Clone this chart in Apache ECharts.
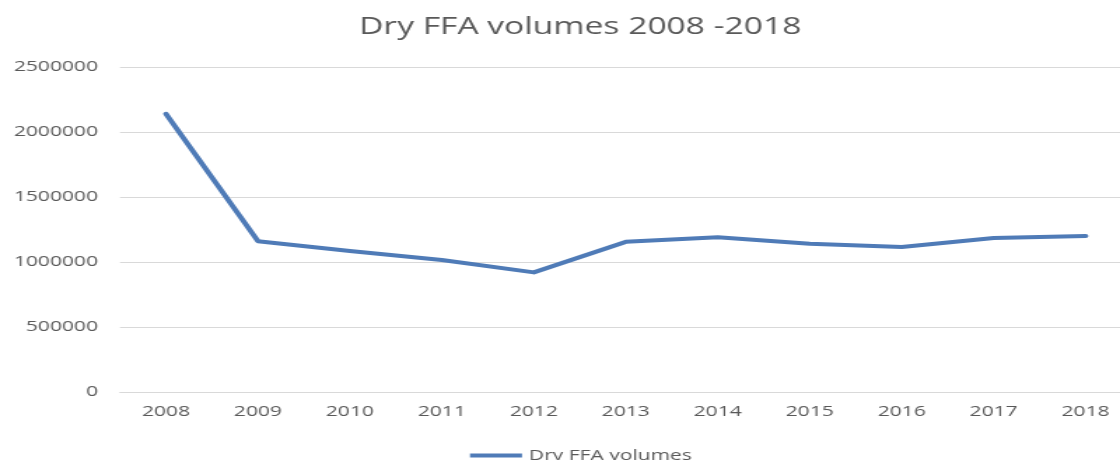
<!DOCTYPE html>
<html>
<head>
<meta charset="utf-8">
<script src="https://cdn.jsdelivr.net/npm/echarts@6/dist/echarts.min.js"></script>
<style>
  html, body { margin: 0; padding: 0; background: #fff; overflow: hidden; width: 1120px; height: 460px; }
  /* chart is laid out narrow and widened horizontally, giving the stretched lettering */
  #chart { width: 814px; height: 460px; transform: scaleX(1.4); transform-origin: 0 0; }
</style>
</head>
<body>
<div id="chart"></div>
<script>
// Yearly dry FFA traded volumes
const years = ['2008', '2009', '2010', '2011', '2012', '2013', '2014', '2015', '2016', '2017', '2018'];
const volumes = [2140000, 1160000, 1085000, 1015000, 920000, 1155000, 1190000, 1140000, 1115000, 1185000, 1200000];
const seriesName = 'Dry FFA volumes';
const chartTitle = 'Dry FFA volumes 2008 -2018';

const S = 1.4;            // horizontal stretch applied by CSS
const px = v => v / S;    // convert a screen x-distance into layout units
const textColor = '#595959';
const gridColor = '#d9d9d9';
const lineColor = '#4f7bb7';
const font = '"Open Sans", sans-serif';

const chart = echarts.init(document.getElementById('chart'), null, { renderer: 'canvas' });
chart.setOption({
  animation: false,
  backgroundColor: '#ffffff',
  title: {
    text: chartTitle,
    left: px(352),
    top: 10,
    textStyle: { color: textColor, fontFamily: font, fontSize: 24, fontWeight: 'normal' }
  },
  legend: {
    data: [{ name: seriesName, icon: 'rect' }],
    left: px(463),
    top: 443,
    itemWidth: px(52),
    itemHeight: 4,
    textStyle: { color: textColor, fontFamily: font, fontSize: 15 }
  },
  grid: {
    left: px(120),
    right: px(8),
    top: 67,
    bottom: 68,
    containLabel: false
  },
  xAxis: {
    type: 'category',
    data: years,
    boundaryGap: true,
    axisLine: { show: true, lineStyle: { color: gridColor, width: 1 } },
    axisTick: { show: false },
    axisLabel: { color: textColor, fontFamily: font, fontSize: 15, margin: 12 }
  },
  yAxis: {
    type: 'value',
    min: 0,
    max: 2500000,
    interval: 500000,
    axisLine: { show: false },
    axisTick: { show: false },
    axisLabel: {
      color: textColor, fontFamily: font, fontSize: 15, margin: px(22),
      formatter: v => String(v)
    },
    splitLine: { show: true, lineStyle: { color: gridColor, width: 1 } }
  },
  series: [{
    name: seriesName,
    type: 'line',
    data: volumes,
    symbol: 'none',
    lineStyle: { color: lineColor, width: 4, join: 'round', cap: 'round' },
    itemStyle: { color: lineColor }
  }]
});
</script>
</body>
</html>
